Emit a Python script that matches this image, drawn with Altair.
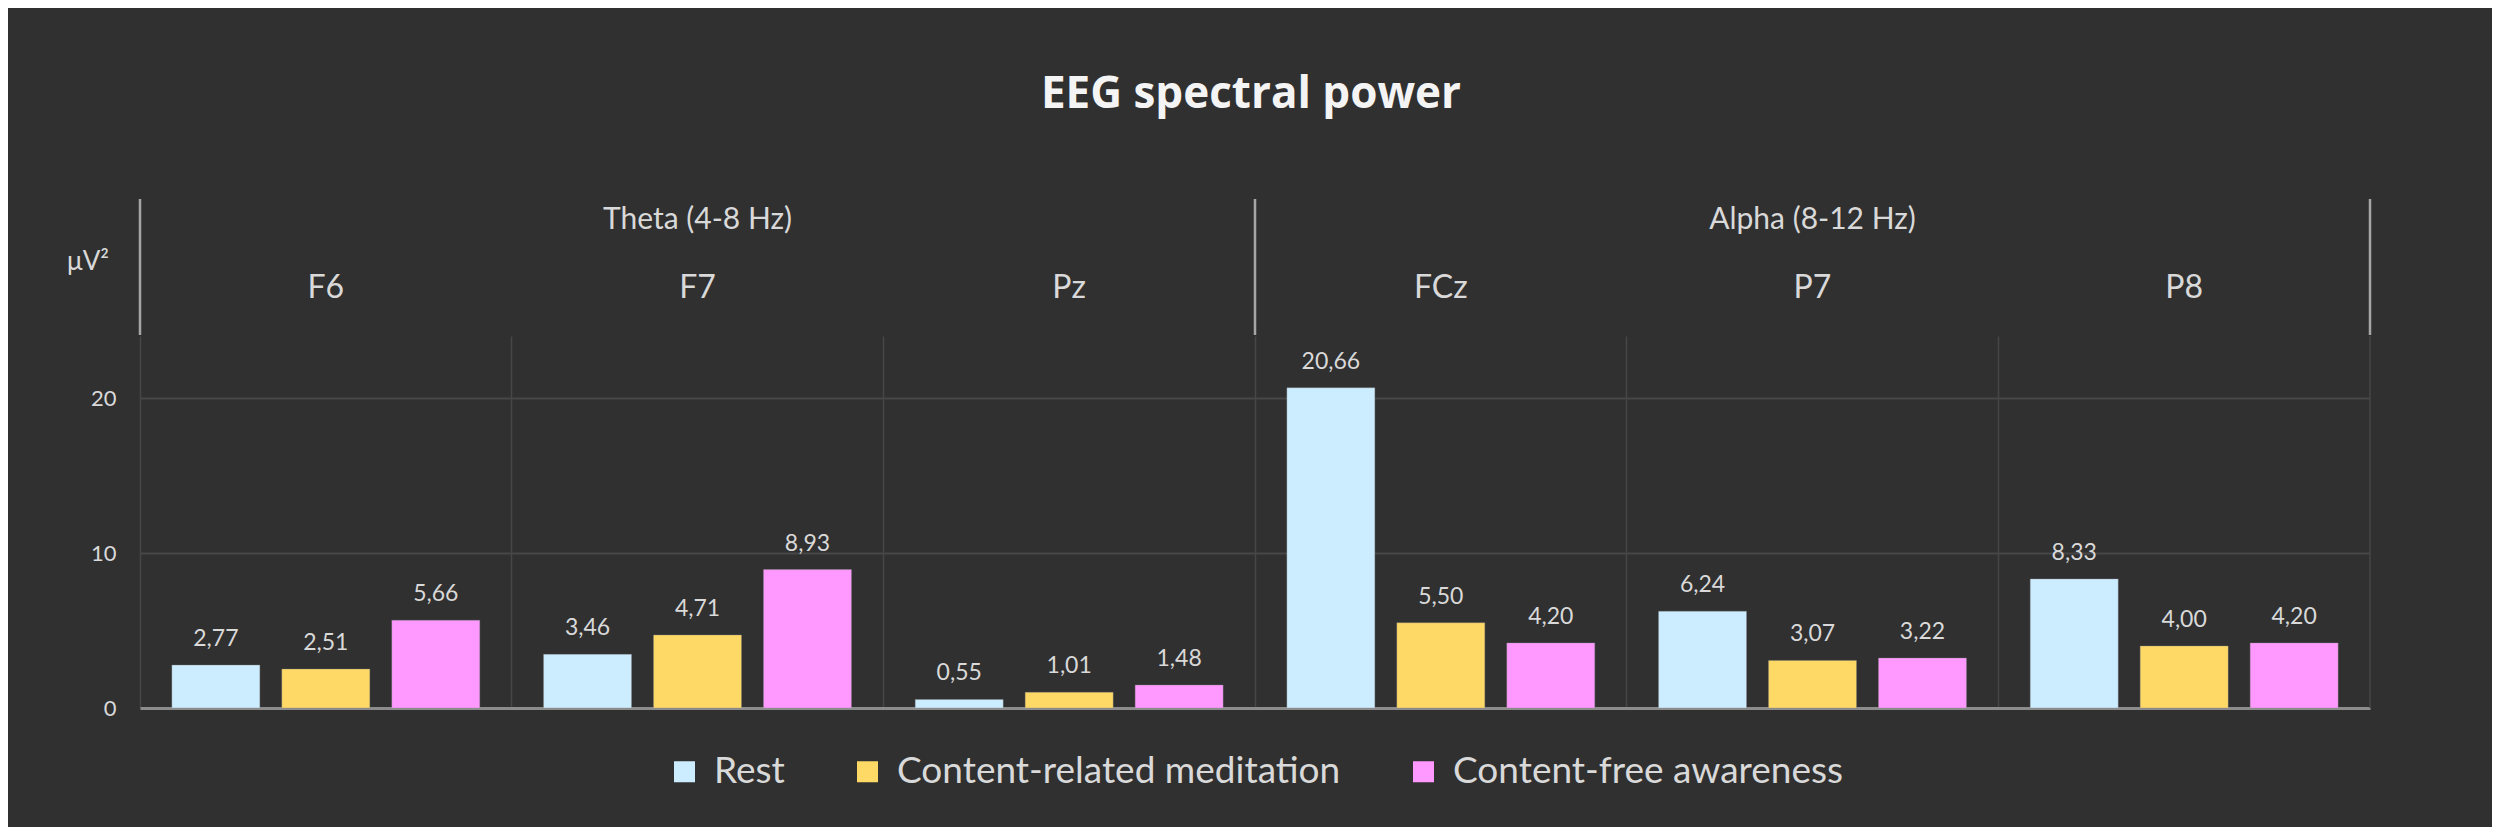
import altair as alt
import pandas as pd

channels = ["F6", "F7", "Pz", "FCz", "P7", "P8"]
conditions = ["Rest", "Content-related meditation", "Content-free awareness"]
rest = [2.77, 3.46, 0.55, 20.66, 6.24, 8.33]
content_related = [2.51, 4.71, 1.01, 5.50, 3.07, 4.00]
content_free = [5.66, 8.93, 1.48, 4.20, 3.22, 4.20]
colors = ["#CCECFF", "#FFD966", "#FF99FF"]

group_labels = ["Theta (4-8 Hz)", "Alpha (8-12 Hz)"]
group_mid_channel = ["F7", "P7"]
group_start_channel = ["F6", "FCz"]
title_text = ["EEG spectral power"]
unit_text = ["μV²"]
y_ticks = [0, 10, 20]

rows = []
for cond, vals in zip(conditions, [rest, content_related, content_free]):
    for ch, v in zip(channels, vals):
        rows.append({"channel": ch, "condition": cond, "value": v})
df = pd.DataFrame(rows)

W, H = 2230, 372
FONT = "Lato"
TXT = "#d9d9d9"

xenc = alt.X(
    "channel:N", sort=channels,
    scale=alt.Scale(paddingInner=0, paddingOuter=0),
    axis=alt.Axis(labels=False, ticks=False, title=None, grid=True, bandPosition=0,
                  gridColor="#464646", gridWidth=1.5,
                  domainColor="#8c8c8c", domainWidth=3),
)
xoff = alt.XOffset("condition:N", sort=conditions,
                   scale=alt.Scale(paddingInner=0.2, paddingOuter=0.29))
yenc = alt.Y(
    "value:Q", scale=alt.Scale(domain=[0, 24]),
    axis=alt.Axis(values=y_ticks, title=None, domain=False, ticks=False, labelPadding=24,
                  labelFontSize=22, labelColor=TXT, labelFont=FONT,
                  gridColor="#474747", gridWidth=2),
)

bars = alt.Chart(df).mark_bar(stroke="#8a8a8a", strokeWidth=0.6, strokeOpacity=0.6).encode(
    x=xenc, xOffset=xoff, y=yenc,
    color=alt.Color("condition:N", sort=conditions,
                    scale=alt.Scale(domain=conditions, range=colors),
                    legend=alt.Legend(orient="none", legendX=526, legendY=417,
                                      direction="horizontal", title=None,
                                      symbolType="square", symbolSize=441,
                                      symbolStrokeWidth=0, labelFontSize=37,
                                      labelColor=TXT, labelFont=FONT, labelLimit=0,
                                      columnPadding=64, labelOffset=11, padding=0)),
)

labels = alt.Chart(df).transform_calculate(
    lab="replace(format(datum.value, '.2f'), '.', ',')"
).mark_text(dy=-19, baseline="alphabetic", fontSize=23, color=TXT, font=FONT).encode(
    x=alt.X("channel:N", sort=channels), xOffset=alt.XOffset("condition:N", sort=conditions),
    y="value:Q", text="lab:N",
)

ch_df = pd.DataFrame({"channel": channels})
ch_text = alt.Chart(ch_df).mark_text(fontSize=32, color=TXT, font=FONT, baseline="middle").encode(
    x=alt.X("channel:N", sort=channels), y=alt.value(-48), text="channel:N"
)

grp_df = pd.DataFrame({"channel": group_mid_channel, "label": group_labels})
grp_text = alt.Chart(grp_df).mark_text(fontSize=30, color=TXT, font=FONT, baseline="middle").encode(
    x=alt.X("channel:N", sort=channels), y=alt.value(-116), text="label:N"
)

sep_df = pd.DataFrame({"channel": group_start_channel})
sep = alt.Chart(sep_df).mark_rule(color="#a6a6a6", strokeWidth=2.5).encode(
    x=alt.X("channel:N", sort=channels, bandPosition=0),
    y=alt.value(-137), y2=alt.value(-1),
)
sep_right = alt.Chart(sep_df.head(1)).mark_rule(color="#a6a6a6", strokeWidth=2.5).encode(
    x=alt.value(W), y=alt.value(-137), y2=alt.value(-1),
)
grid_right = alt.Chart(sep_df.head(1)).mark_rule(color="#464646", strokeWidth=1.5).encode(
    x=alt.value(W), y=alt.value(0), y2=alt.value(H),
)

title = alt.Chart(pd.DataFrame({"t": title_text})).mark_text(
    fontSize=44, fontWeight="bold", color="#f4f4f4", font="Open Sans", baseline="middle"
).encode(x=alt.value(1111), y=alt.value(-241), text="t:N")

unit = alt.Chart(pd.DataFrame({"t": unit_text})).mark_text(
    fontSize=26, color=TXT, font=FONT, baseline="middle"
).encode(x=alt.value(-52), y=alt.value(-74), text="t:N")

chart = alt.layer(
    grid_right, bars, labels, ch_text, grp_text, sep, sep_right, title, unit
).properties(
    width=W, height=H,
    autosize=alt.AutoSizeParams(type="none"),
    padding={"left": 132, "top": 328, "right": 122, "bottom": 119},
    background="#303030",
).configure(font=FONT).configure_view(strokeWidth=0, stroke="transparent")

chart.save("out.html", embed_options={"renderer": "svg", "actions": False})
